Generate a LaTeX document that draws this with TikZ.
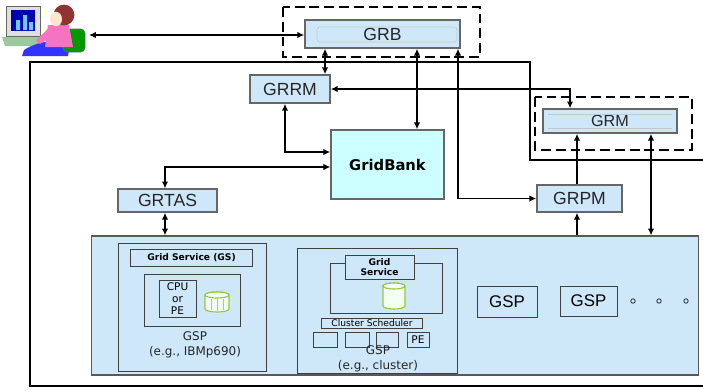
\documentclass[tikz,border=0pt]{standalone}
\usepackage{fontspec}
\setmainfont{Liberation Sans}
\newfontfamily\tahoma{DejaVu Sans}
\usetikzlibrary{arrows.meta,calc}

\definecolor{paneblue}{RGB}{206,232,250}
\definecolor{bankcyan}{RGB}{204,255,255}
\definecolor{dbgreen}{RGB}{150,200,60}

\begin{document}
\begin{tikzpicture}[x=0.025cm, y=-0.025cm,
  unit/.style={rectangle, draw=gray!80!black, fill=paneblue, line width=1pt, text=black!85, font=\fontsize{12.5}{14}\selectfont},
  zone/.style={draw=black, line width=2pt, dash pattern=on 7pt off 3.5pt},
  frame/.style={draw=black, line width=0.8pt},
  link/.style={{Latex[length=1.7mm,width=1.6mm]}-{Latex[length=1.7mm,width=1.6mm]}, line width=1.2pt},
  thinlink/.style={link, line width=0.8pt},
  uplink/.style={-{Latex[length=1.7mm,width=1.6mm]}, line width=1.2pt},
  gsp/.style={rectangle, draw=black!75, line width=0.7pt},
  svc/.style={rectangle, draw=black!75, line width=0.7pt, font=\tahoma\bfseries\fontsize{6.5}{7.5}\selectfont, align=center, inner sep=0pt},
  dbline/.style={draw=dbgreen, fill=green!5, line width=0.8pt},
  cell/.style={rectangle, draw=black!75, line width=0.7pt, minimum width=0.6cm, minimum height=0.375cm, inner sep=0pt, font=\tahoma\fontsize{7.5}{8}\selectfont},
  note/.style={font=\tahoma\fontsize{8.5}{10.5}\selectfont, align=center, text=black!85},
]
\useasboundingbox (0,0) rectangle (703,391);

% === user at a workstation ===
\fill[gray!25] (6,6) rectangle (40,36);
\draw[black!60, line width=0.4pt] (6,6) rectangle (40,36);
\fill[blue!70!black] (11,10) rectangle (35,31);
\fill[cyan!60] (16,20) rectangle (20,30) (23,15) rectangle (27,30) (29,22) rectangle (33,30);
\fill[green!30!gray!60] (2,37) -- (42,37) -- (46,46) -- (5,46) -- cycle;
\fill[blue!80] (24,50) .. controls (40,40) and (55,40) .. (70,44) -- (68,56) -- (22,56) -- cycle;
\filldraw[fill=green!60!black, draw=black!60, rounded corners=3pt] (63,29) rectangle (85,52);
\fill[magenta!55] (48,25) -- (69,25) -- (73,47) -- (45,47) -- cycle;
\fill[magenta!55] (48,29) -- (36,40) -- (40,44) -- (53,36) -- cycle;
\fill[red!45!black!80] (64,15) circle[radius=0.26cm];
\fill[orange!20] (56,19) ellipse[x radius=0.15cm, y radius=0.18cm];
\coordinate (usr) at (89,35);

% === outer frame ===
\draw[frame] (703,160) -- (530,160) -- (530,62) -- (30,62) -- (30,386) -- (703,386);

% === brokers and managers ===
\draw[zone] (283,7) rectangle (480,57);
\node[unit, minimum width=3.875cm, minimum height=0.7cm] (grb) at (382.5,34) {GRB};
\draw[gray!45, rounded corners=2pt] (317,27) rectangle (457,42);

\draw[zone] (535,97) rectangle (692,150);
\node[unit, minimum width=3.35cm, minimum height=0.6cm, font=\fontsize{11.5}{13}\selectfont] (grm) at (610,121) {GRM};
\draw[gray!45] (548,114) -- (672,114) (548,128) -- (672,128);

\node[unit, minimum width=2cm, minimum height=0.7cm] (grrm) at (290,89) {GRRM};
\node[unit, minimum width=2.475cm, minimum height=0.575cm] (grtas) at (167.5,200.5) {GRTAS};
\node[unit, minimum width=2.125cm, minimum height=0.675cm] (grpm) at (579.5,198.5) {GRPM};
\node[rectangle, draw=gray!80!black, fill=bankcyan, line width=1pt,
      minimum width=2.825cm, minimum height=1.725cm,
      font=\tahoma\bfseries\fontsize{10.5}{12}\selectfont] (gridbank) at (387.5,164.5) {GridBank};

% === resource providers ===
\node[rectangle, draw=gray!70!black, fill=paneblue, line width=0.8pt,
      minimum width=15.15cm, minimum height=3.475cm] (panel) at (395,305.5) {};

% GSP with a single machine
\draw[gsp] (118,243) rectangle (266,371);
\node[svc, minimum width=3.025cm, minimum height=0.425cm] (gs1) at (191.5,257.5) {Grid Service (GS)};
\draw[gsp] (144,274) rectangle (240,326);
\node[svc, font=\tahoma\fontsize{7.5}{8.5}\selectfont, minimum width=0.925cm, minimum height=0.925cm] (cpu) at (177.5,298.5) {CPU\\or\\PE};
\filldraw[dbline] (205,295) -- (205,309) arc[start angle=180, end angle=360, x radius=0.3cm, y radius=0.075cm]
  -- (229,295) arc[start angle=0, end angle=180, x radius=0.3cm, y radius=0.075cm] -- cycle;
\draw[dbline] (217,295) ellipse[x radius=0.3cm, y radius=0.075cm];
\draw[green!50!gray!60, line width=0.3pt] (211,299) -- (211,310) (217,299) -- (217,311) (223,299) -- (223,310);
\node[note] (gsp1) at (195,345) {GSP\\(e.g., IBMp690)};

% GSP with a cluster
\draw[gsp] (297,248) rectangle (457,373);
\draw[gsp] (330,263) rectangle (442,313);
\node[svc, fill=paneblue, minimum width=1.725cm, minimum height=0.6cm] (gs2) at (379.5,267) {Grid\\Service};
\filldraw[dbline] (383,286) -- (383,306) arc[start angle=180, end angle=360, x radius=0.275cm, y radius=0.075cm]
  -- (405,286) arc[start angle=0, end angle=180, x radius=0.275cm, y radius=0.075cm] -- cycle;
\draw[dbline] (394,286) ellipse[x radius=0.275cm, y radius=0.075cm];
\node[svc, font=\tahoma\fontsize{6.5}{7}\selectfont, minimum width=2.5cm, minimum height=0.25cm] (sched) at (372,323) {Cluster Scheduler};
\node[cell] (pe1) at (325,339.5) {};
\node[cell] (pe2) at (357,339.5) {};
\node[cell, minimum width=0.55cm] (pe3) at (387,339.5) {};
\node[cell, minimum width=0.55cm] (pe4) at (418,339.5) {PE};
\node[note] (gsp2) at (378,358.5) {GSP\\(e.g., cluster)};

% further providers
\node[gsp, minimum width=1.5cm, minimum height=0.775cm, font=\fontsize{12}{14}\selectfont] (gsp3) at (507,301.5) {GSP};
\node[gsp, minimum width=1.425cm, minimum height=0.75cm, font=\fontsize{12}{14}\selectfont] (gsp4) at (588.5,301) {GSP};
\foreach \cx in {633,659,686}
  \draw[black!80, line width=0.6pt] (\cx,301) circle[radius=0.055cm];

% === connectors ===
\draw[link, line width=1pt] (usr) -- (usr -| grb.west);
\draw[link] (grb.south -| 325,0) -- (grrm.north -| 325,0);
\draw[link] (grb.south -| 417,0) -- (gridbank.north -| 417,0);
\draw[link, line width=1pt] (grb.south -| 458,0) |- (grpm.west);
\draw[thinlink, line width=1pt] (grrm.east) -| (grm.north -| 570,0);
\draw[link] (grrm.south -| 285,0) |- (gridbank.west |- 0,152);
\draw[thinlink] (gridbank.west |- 0,167) -| (grtas.north -| 165,0);
\draw[link] (grtas.south -| 165,0) -- (panel.north -| 165,0);
\draw[uplink] (grpm.north -| 577,0) -- (grm.south -| 577,0);
\draw[uplink] (panel.north -| 577,0) -- (grpm.south -| 577,0);
\draw[link] (grm.south -| 651,0) -- (panel.north -| 651,0);

\end{tikzpicture}
\end{document}
